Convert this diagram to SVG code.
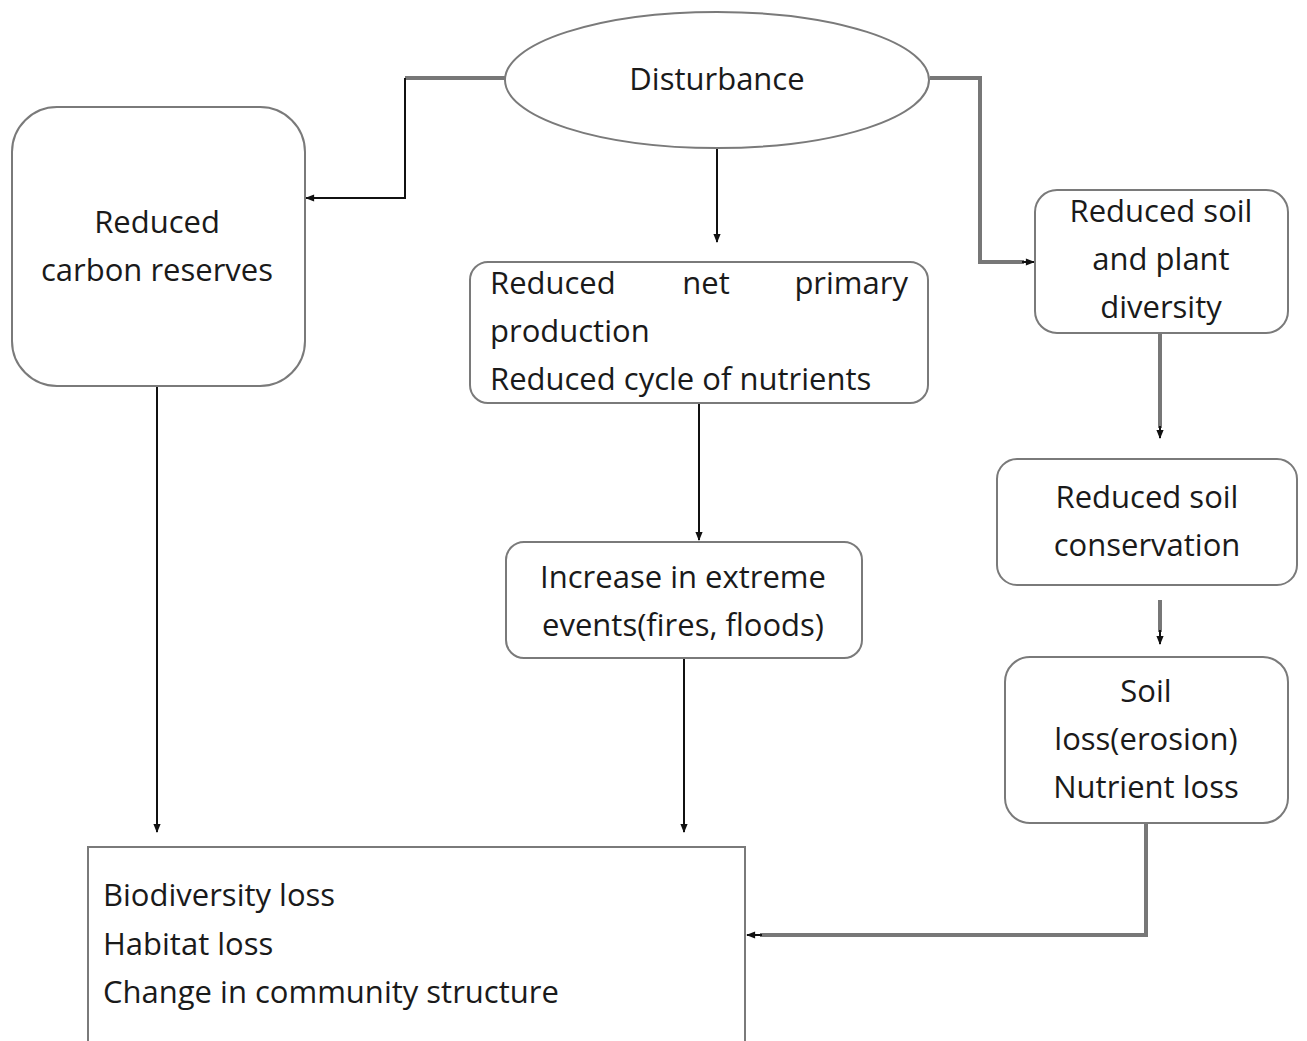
<svg xmlns="http://www.w3.org/2000/svg" width="1307" height="1041" viewBox="0 0 1307 1041">
<style>
.box{fill:#fff;stroke:#7a7a7a;stroke-width:2}
.t{font-family:"Open Sans","Liberation Sans",sans-serif;font-size:31px;fill:#1a1a1a}
.c{text-anchor:middle}
.k{fill:none;stroke:#111;stroke-width:2}
.g{fill:none;stroke:#777;stroke-width:4}
</style>
<defs>
<marker id="a" viewBox="0 0 10 10" refX="9" refY="5" markerWidth="10" markerHeight="9" orient="auto" markerUnits="userSpaceOnUse"><path d="M0,1 L10,5 L0,9 z" fill="#111"/></marker>
</defs>
<rect width="1307" height="1041" fill="#fff"/>
<g id="connectors">
<path class="g" d="M505,78 H405"/>
<path class="k" d="M405,78 V198 H306" marker-end="url(#a)"/>
<path class="k" d="M717,148 V242" marker-end="url(#a)"/>
<path class="g" d="M930,78 H980 V262 H1024"/>
<path class="k" d="M1022,262 H1034" marker-end="url(#a)"/>
<path class="g" d="M1160,333 V428"/>
<path class="k" d="M1160,426 V438" marker-end="url(#a)"/>
<path class="g" d="M1160,600 V632"/>
<path class="k" d="M1160,630 V644" marker-end="url(#a)"/>
<path class="k" d="M699,403 V540" marker-end="url(#a)"/>
<path class="k" d="M684,658 V832" marker-end="url(#a)"/>
<path class="k" d="M157,386 V832" marker-end="url(#a)"/>
<path class="g" d="M1146,823 V935 H760"/>
<path class="k" d="M762,935 H747" marker-end="url(#a)"/>
</g>
<g id="disturbance">
<ellipse class="box" cx="717" cy="80" rx="212" ry="68"/>
<text class="t c" x="717" y="90">Disturbance</text>
</g>
<g id="carbon">
<rect class="box" x="12" y="107" width="293" height="279" rx="45"/>
<text class="t c" x="157" y="233">Reduced</text>
<text class="t c" x="157" y="281">carbon reserves</text>
</g>
<g id="npp">
<rect class="box" x="470" y="262" width="458" height="141" rx="18"/>
<text class="t" x="490" y="294">Reduced</text>
<text class="t c" x="706" y="294">net</text>
<text class="t" x="908" y="294" text-anchor="end">primary</text>
<text class="t" x="490" y="342">production</text>
<text class="t" x="490" y="390">Reduced cycle of nutrients</text>
</g>
<g id="extreme">
<rect class="box" x="506" y="542" width="356" height="116" rx="18"/>
<text class="t c" x="683" y="588">Increase in extreme</text>
<text class="t c" x="683" y="636">events(fires, floods)</text>
</g>
<g id="diversity">
<rect class="box" x="1035" y="190" width="253" height="143" rx="22"/>
<text class="t c" x="1161" y="222">Reduced soil</text>
<text class="t c" x="1161" y="270">and plant</text>
<text class="t c" x="1161" y="318">diversity</text>
</g>
<g id="conservation">
<rect class="box" x="997" y="459" width="300" height="126" rx="20"/>
<text class="t c" x="1147" y="508">Reduced soil</text>
<text class="t c" x="1147" y="556">conservation</text>
</g>
<g id="soilloss">
<rect class="box" x="1005" y="657" width="283" height="166" rx="25"/>
<text class="t c" x="1146" y="702">Soil</text>
<text class="t c" x="1146" y="750">loss(erosion)</text>
<text class="t c" x="1146" y="798">Nutrient loss</text>
</g>
<g id="impacts">
<rect class="box" x="88" y="847" width="657" height="220"/>
<text class="t" x="103" y="906">Biodiversity loss</text>
<text class="t" x="103" y="955">Habitat loss</text>
<text class="t" x="103" y="1003">Change in community structure</text>
</g>
</svg>
